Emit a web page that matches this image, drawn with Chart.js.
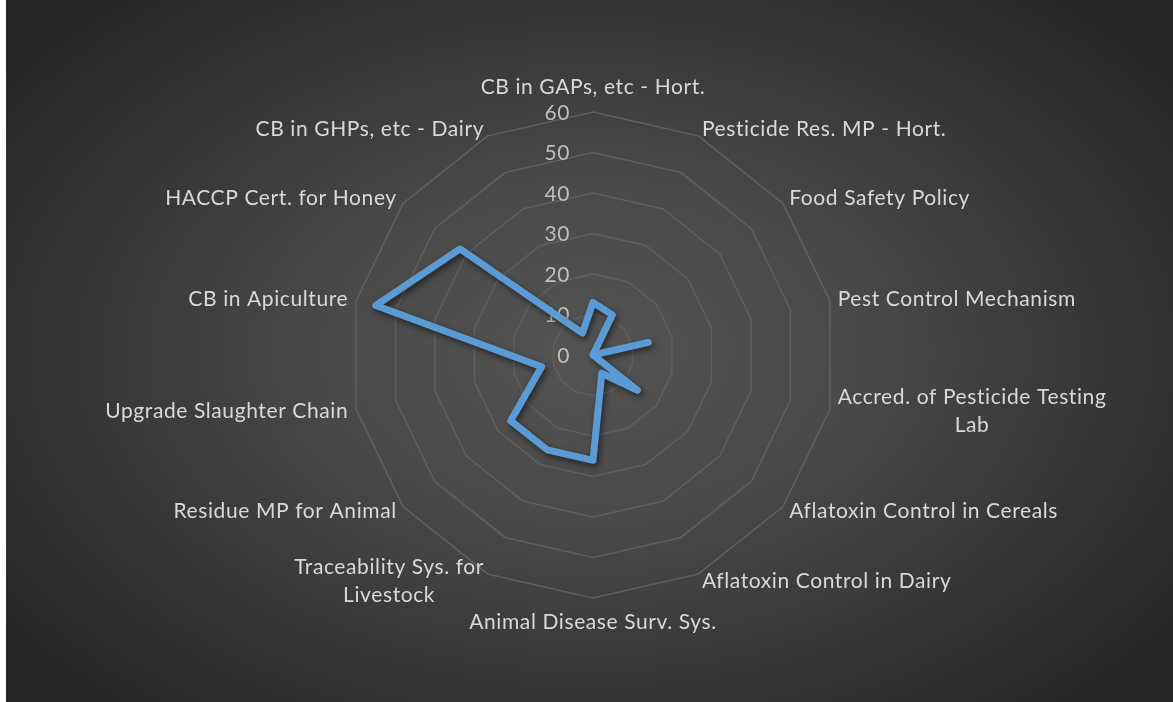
<!DOCTYPE html>
<html>
<head>
<meta charset="utf-8">
<script src="https://cdn.jsdelivr.net/npm/chart.js@4/dist/chart.umd.min.js"></script>
<style>
  html, body { margin: 0; padding: 0; background: #ffffff; }
  canvas { display: block; }
</style>
</head>
<body>
<canvas id="radar" width="1173" height="702"></canvas>
<script>
// Category names around the radar (arrays wrap onto two lines)
const categories = [
  'CB in GAPs, etc - Hort.',
  'Pesticide Res. MP - Hort.',
  'Food Safety Policy',
  'Pest Control Mechanism',
  ['Accred. of Pesticide Testing', 'Lab'],
  'Aflatoxin Control in Cereals',
  'Aflatoxin Control in Dairy',
  'Animal Disease Surv. Sys.',
  ['Traceability Sys. for', 'Livestock'],
  'Residue MP for Animal',
  'Upgrade Slaughter Chain',
  'CB in Apiculture',
  'HACCP Cert. for Honey',
  'CB in GHPs, etc - Dairy'
];

// Score for each category
const scores = [13, 11, 0, 14, 0, 14, 5, 26, 26, 26, 13, 55, 42, 6];

// Values printed along the vertical axis
const tickValues = [0, 10, 20, 30, 40, 50, 60];

const FONT = 'Lato, "Open Sans", sans-serif';
const CENTER_X = 593, CENTER_Y = 355, RADIUS = 243;

// Dark radial backdrop, with a thin white margin on the left
const backdrop = {
  id: 'backdrop',
  beforeDraw(chart) {
    const ctx = chart.ctx;
    const w = chart.width, h = chart.height;
    ctx.save();
    ctx.fillStyle = '#ffffff';
    ctx.fillRect(0, 0, w, h);
    const cx = 590, cy = 352, rx = 720, ry = 470;
    ctx.translate(cx, cy);
    ctx.scale(rx, ry);
    const g = ctx.createRadialGradient(0, 0, 0, 0, 0, 1);
    g.addColorStop(0, '#545454');
    g.addColorStop(0.35, '#4a4a4a');
    g.addColorStop(1, '#262626');
    ctx.fillStyle = g;
    ctx.fillRect((6 - cx) / rx, -cy / ry, (w - 6) / rx, h / ry);
    ctx.restore();
  }
};

// Axis values on the left of the vertical axis
const axisValues = {
  id: 'axisValues',
  beforeDatasetsDraw(chart) {
    const s = chart.scales.r;
    const ctx = chart.ctx;
    ctx.save();
    ctx.font = '21px ' + FONT;
    ctx.letterSpacing = '0.6px';
    ctx.fillStyle = '#bfbfbf';
    ctx.textAlign = 'right';
    ctx.textBaseline = 'middle';
    tickValues.forEach(v => {
      const y = s.yCenter - s.getDistanceFromCenterForValue(v);
      ctx.fillText(String(v), s.xCenter - 23, y + 1);
    });
    ctx.restore();
  }
};

// Category names placed just outside the outer ring
const categoryText = {
  id: 'categoryText',
  afterDraw(chart) {
    const s = chart.scales.r;
    const ctx = chart.ctx;
    const lineH = 28;
    ctx.save();
    ctx.font = '21px ' + FONT;
    ctx.letterSpacing = '0.6px';
    ctx.fillStyle = '#d9d9d9';
    ctx.textAlign = 'center';
    ctx.textBaseline = 'middle';
    categories.forEach((label, i) => {
      const lines = Array.isArray(label) ? label : [label];
      const p = s.getPointPosition(i, s.drawingArea + 8);
      const deg = Math.round(s.getIndexAngle(i) * 180 / Math.PI) % 360;
      const maxW = Math.max(...lines.map(t => ctx.measureText(t).width));
      const blockH = lines.length * lineH;
      let cx, cy;
      if (deg === 0) {
        cx = p.x; cy = p.y - 17 - (blockH - lineH) / 2;
      } else if (deg === 180) {
        cx = p.x; cy = p.y + 16 + (blockH - lineH) / 2;
      } else if (deg < 180) {
        cx = p.x + maxW / 2; cy = p.y;
      } else {
        cx = p.x - maxW / 2; cy = p.y;
      }
      lines.forEach((t, k) => {
        const y = cy - (blockH - lineH) / 2 + k * lineH;
        ctx.fillText(t, cx, y);
      });
    });
    ctx.restore();
  }
};

// Soft drop shadow under the series line
const lineShadow = {
  id: 'lineShadow',
  beforeDatasetDraw(chart) {
    const ctx = chart.ctx;
    ctx.save();
    ctx.shadowColor = 'rgba(0,0,0,0.55)';
    ctx.shadowBlur = 6;
    ctx.shadowOffsetX = 2;
    ctx.shadowOffsetY = 3;
  },
  afterDatasetDraw(chart) {
    chart.ctx.restore();
  }
};

new Chart(document.getElementById('radar'), {
  type: 'radar',
  data: {
    labels: categories,
    datasets: [{
      label: 'Series1',
      data: scores,
      borderColor: '#5b9bd5',
      borderWidth: 7,
      borderJoinStyle: 'round',
      borderCapStyle: 'round',
      backgroundColor: 'rgba(0,0,0,0)',
      fill: false,
      pointRadius: 0,
      pointHoverRadius: 0,
      tension: 0
    }]
  },
  options: {
    responsive: false,
    devicePixelRatio: 1,
    animation: false,
    events: [],
    plugins: {
      legend: { display: false },
      tooltip: { enabled: false }
    },
    scales: {
      r: {
        min: 0,
        max: 60,
        ticks: { stepSize: 10, display: false },
        pointLabels: { display: false },
        angleLines: { display: false },
        grid: { color: '#5f5f5f', lineWidth: 1.5, circular: false },
        afterFit(scale) {
          scale.xCenter = CENTER_X;
          scale.yCenter = CENTER_Y;
          scale.drawingArea = RADIUS;
        }
      }
    }
  },
  plugins: [backdrop, axisValues, categoryText, lineShadow]
});
</script>
</body>
</html>
